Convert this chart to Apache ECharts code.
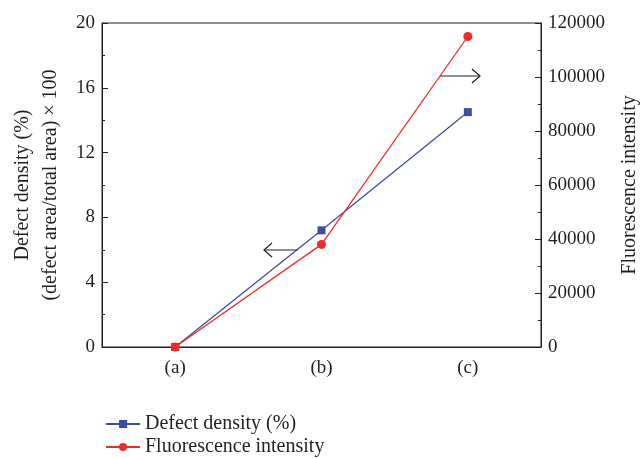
<!DOCTYPE html>
<html>
<head>
<meta charset="utf-8">
<script src="https://cdn.jsdelivr.net/npm/echarts@6/dist/echarts.min.js"></script>
<style>
  html, body { margin: 0; padding: 0; background: #fff; }
  #chart { width: 641px; height: 458px; }
</style>
</head>
<body>
<div id="chart"></div>
<script>
// data
const categories = ['(a)', '(b)', '(c)']
const defectDensity = [0, 7.2, 14.5]
const fluorescence = [0, 38000, 115000]

const FONT = '"Liberation Serif", "DejaVu Serif", serif'
const AXIS = '#231f20'
const BLUE = '#3a4fa3'
const RED = '#ee2a2a'

const chart = echarts.init(document.getElementById('chart'))

const valueAxis = (min, max, interval, side) => ({
    type: 'value',
    position: side,
    min: min,
    max: max,
    interval: interval,
    splitLine: { show: false },
    axisLine: { show: true, lineStyle: { color: AXIS, width: 1 } },
    axisTick: { show: true, inside: true, length: 6, lineStyle: { color: AXIS } },
    minorTick: { show: true, splitNumber: 2, length: 3, lineStyle: { color: AXIS } },
    axisLabel: { color: AXIS, fontFamily: FONT, fontSize: 19, margin: 7, formatter: v => String(v) },
    nameLocation: 'middle',
    nameTextStyle: { color: AXIS, fontFamily: FONT, fontSize: 20, lineHeight: 28 }
})

const leftAxis = valueAxis(0, 20, 4, 'left')
leftAxis.name = 'Defect density (%)\n(defect area/total area) × 100'
leftAxis.nameGap = 36

const rightAxis = valueAxis(0, 120000, 20000, 'right')
rightAxis.name = 'Fluorescence intensity'
rightAxis.nameGap = 75

chart.setOption({
    animation: false,
    grid: {
        left: 102, right: 100, top: 23, bottom: 111,
        outerBoundsMode: 'none',
        containLabel: false,
        show: true, borderColor: AXIS, borderWidth: 1
    },
    legend: {
        orient: 'vertical',
        left: 100,
        top: 409,
        height: 60,
        itemWidth: 34,
        itemHeight: 10,
        itemGap: 3,
        textStyle: { color: AXIS, fontFamily: FONT, fontSize: 20, lineHeight: 20 },
        data: ['Defect density (%)', 'Fluorescence intensity']
    },
    xAxis: {
        type: 'category',
        data: categories,
        boundaryGap: true,
        axisLine: { lineStyle: { color: AXIS } },
        axisTick: { inside: true, alignWithLabel: true, length: 6, lineStyle: { color: AXIS } },
        axisLabel: { color: AXIS, fontFamily: FONT, fontSize: 19, margin: 12 }
    },
    yAxis: [leftAxis, rightAxis],
    series: [
        {
            name: 'Defect density (%)',
            type: 'line',
            yAxisIndex: 0,
            data: defectDensity,
            symbol: 'rect',
            symbolSize: 8,
            itemStyle: { color: BLUE },
            lineStyle: { color: BLUE, width: 1.3 }
        },
        {
            name: 'Fluorescence intensity',
            type: 'line',
            yAxisIndex: 1,
            data: fluorescence,
            symbol: 'circle',
            symbolSize: 9,
            itemStyle: { color: RED },
            lineStyle: { color: RED, width: 1.3 }
        }
    ],
    // axis-pointing arrows (annotations)
    graphic: [
        {
            type: 'polyline',
            shape: { points: [[298, 250], [264, 250]] },
            style: { stroke: AXIS, lineWidth: 1.2, fill: null }
        },
        {
            type: 'polyline',
            shape: { points: [[272, 243], [264, 250], [272, 257]] },
            style: { stroke: AXIS, lineWidth: 1.2, fill: null }
        },
        {
            type: 'polyline',
            shape: { points: [[440, 76], [480, 76]] },
            style: { stroke: AXIS, lineWidth: 1.2, fill: null }
        },
        {
            type: 'polyline',
            shape: { points: [[472, 69], [480, 76], [472, 83]] },
            style: { stroke: AXIS, lineWidth: 1.2, fill: null }
        }
    ]
})
</script>
</body>
</html>
